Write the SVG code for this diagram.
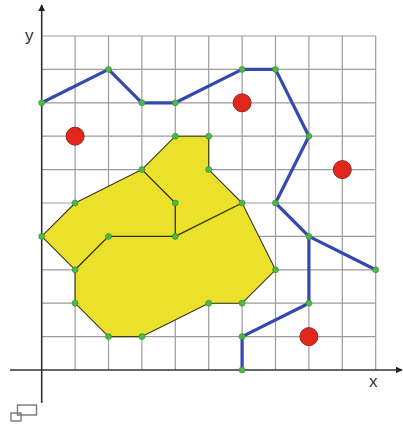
<svg xmlns="http://www.w3.org/2000/svg" width="403" height="425" viewBox="0 0 403 425">
<style>
.grid{stroke:#9c9c9c;stroke-width:1.2;fill:none}
.axis{stroke:#333;stroke-width:1.6;fill:none}
.blue{stroke:#3448b0;stroke-width:3.2;fill:none;stroke-linejoin:round;stroke-linecap:round}
.region{fill:#ebe02a;stroke:#3a3a20;stroke-width:1.1;stroke-linejoin:round}
.inner{stroke:#2e2e18;stroke-width:1.3;fill:none}
.pt{fill:#4cb84a;stroke:#2f8a2f;stroke-width:0.6}
.red{fill:#e3261c;stroke:#8a2a20;stroke-width:1}
.lbl{font-family:"Liberation Sans",Arial,sans-serif;font-size:17px;fill:#333}
.icon{fill:none;stroke:#777;stroke-width:1.4}
</style>
<defs>
<marker id="arr" viewBox="0 0 10 10" refX="9" refY="5" markerWidth="7" markerHeight="7" orient="auto" markerUnits="userSpaceOnUse">
<path d="M0,0 L10,5 L0,10 z" fill="#222"/>
</marker>
<circle id="d" r="3"/>
</defs>
<rect width="403" height="425" fill="#fff"/>
<g id="grid">
<path class="grid" d="M75.1,36V370M108.5,36V370M141.9,36V370M175.3,36V370M208.7,36V370M242.1,36V370M275.5,36V370M308.9,36V370M342.3,36V370M375.7,36V370"/>
<path class="grid" d="M41.7,36H375.7M41.7,69.4H375.7M41.7,102.8H375.7M41.7,136.2H375.7M41.7,169.6H375.7M41.7,203H375.7M41.7,236.4H375.7M41.7,269.8H375.7M41.7,303.2H375.7M41.7,336.6H375.7"/>
</g>
<g id="region">
<polygon class="region" points="175.3,136.2 208.7,136.2 208.7,169.6 242.1,203 275.5,269.8 242.1,303.2 208.7,303.2 141.9,336.6 108.5,336.6 75.1,303.2 75.1,269.8 41.7,236.4 75.1,203 141.9,169.6"/>
<polyline class="inner" points="141.9,169.6 175.3,203 175.3,236.4"/>
<polyline class="inner" points="75.1,269.8 108.5,236.4 175.3,236.4 242.1,203"/>
</g>
<g id="axes">
<line class="axis" x1="10" y1="370" x2="402" y2="370" marker-end="url(#arr)"/>
<line class="axis" x1="41.7" y1="403" x2="41.7" y2="5" marker-end="url(#arr)"/>
<text class="lbl" x="25" y="41">y</text>
<text class="lbl" x="369" y="387">x</text>
</g>
<g id="connectors">
<polyline class="blue" points="41.7,102.8 108.5,69.4 141.9,102.8 175.3,102.8 242.1,69.4 275.5,69.4 308.9,136.2 275.5,203 308.9,236.4 375.7,269.8"/>
<polyline class="blue" points="308.9,236.4 308.9,303.2 242.1,336.6 242.1,370"/>
</g>
<g id="red-points">
<circle class="red" cx="75.1" cy="136.2" r="9"/>
<circle class="red" cx="242.1" cy="102.8" r="9"/>
<circle class="red" cx="342.3" cy="169.6" r="9"/>
<circle class="red" cx="308.9" cy="336.6" r="9"/>
</g>
<g id="vertices" class="pt">
<use href="#d" x="41.7" y="102.8"/><use href="#d" x="108.5" y="69.4"/><use href="#d" x="141.9" y="102.8"/><use href="#d" x="175.3" y="102.8"/><use href="#d" x="242.1" y="69.4"/><use href="#d" x="275.5" y="69.4"/><use href="#d" x="308.9" y="136.2"/><use href="#d" x="275.5" y="203"/><use href="#d" x="308.9" y="236.4"/><use href="#d" x="375.7" y="269.8"/><use href="#d" x="308.9" y="303.2"/><use href="#d" x="242.1" y="336.6"/><use href="#d" x="242.1" y="370"/>
<use href="#d" x="175.3" y="136.2"/><use href="#d" x="208.7" y="136.2"/><use href="#d" x="208.7" y="169.6"/><use href="#d" x="242.1" y="203"/><use href="#d" x="275.5" y="269.8"/><use href="#d" x="242.1" y="303.2"/><use href="#d" x="208.7" y="303.2"/><use href="#d" x="141.9" y="336.6"/><use href="#d" x="108.5" y="336.6"/><use href="#d" x="75.1" y="303.2"/><use href="#d" x="75.1" y="269.8"/><use href="#d" x="41.7" y="236.4"/><use href="#d" x="75.1" y="203"/><use href="#d" x="141.9" y="169.6"/>
<use href="#d" x="175.3" y="203"/><use href="#d" x="175.3" y="236.4"/><use href="#d" x="108.5" y="236.4"/>
</g>
<g id="icon">
<rect class="icon" x="17.5" y="405" width="19" height="10"/>
<rect class="icon" x="11" y="413" width="10" height="8"/>
</g>
</svg>
